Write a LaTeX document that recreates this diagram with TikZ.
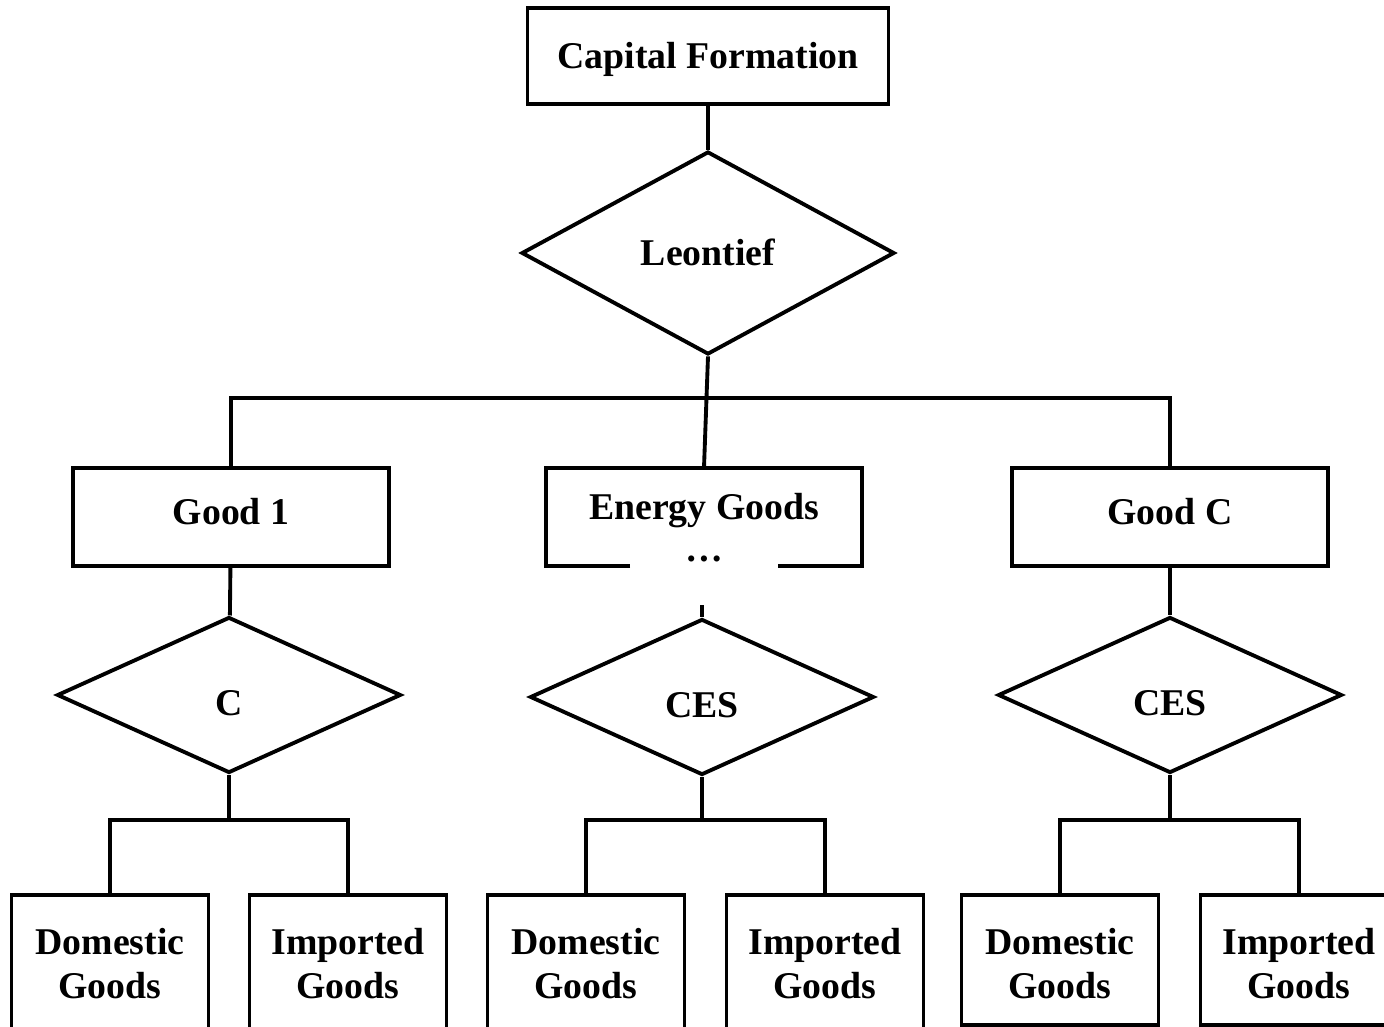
\documentclass[tikz,border=0pt]{standalone}
\usepackage{fontspec}
\setmainfont{Liberation Serif}
\usetikzlibrary{shapes.geometric}

\tikzset{
  lbl/.style={font=\bfseries\fontsize{21.5}{25}\selectfont, align=center},
  box/.style={lbl, draw, line width=2.2pt, inner sep=0pt},
  midbox/.style={box, minimum width=6.32cm, text height=1.14cm, text depth=0.82cm},
  leafbox/.style={box, minimum width=3.94cm, text height=2.08cm, text depth=0.52cm, anchor=north},
  openleaf/.style={leafbox, text depth=0.8cm},
  choice/.style={lbl, draw, diamond, line width=2.2pt, inner sep=0pt,
    minimum width=6.88cm, minimum height=3.12cm, text height=0.84cm, text depth=0cm},
  link/.style={line width=2.2pt}
}

\begin{document}
\begin{tikzpicture}[x=0.02cm, y=-0.02cm]

\useasboundingbox (0,0) rectangle (1384,1027);

% --- Top level ---
\node[box, minimum width=7.22cm, text height=1.22cm, text depth=0.70cm] (cap) at (708,56) {Capital Formation};
\node[choice, minimum width=7.46cm, minimum height=4.06cm, text height=0.52cm] (leo) at (708,253) {Leontief};

% --- Goods ---
\node[midbox] (g1) at (231,517) {Good 1};
\node[lbl, inner sep=0pt, minimum width=6.32cm, text height=1.04cm, text depth=0.92cm] (en) at (704,517) {Energy Goods};
\node[lbl] (endots) at (704,559) {\dots};
\node[midbox] (gc) at (1170,517) {Good C};

% open outline of the energy box
\draw[link] ([xshift=-1.48cm]en.south) -- (en.south west) -- (en.north west)
  -- (en.north east) -- (en.south east) -- ([xshift=1.48cm]en.south);

% --- Nests ---
\node[choice] (c1) at (229,695) {C};
\node[choice] (c2) at (702,697) {CES};
\node[choice] (c3) at (1170,695) {CES};

% --- Leaves ---
\node[openleaf] (d1) at (110,893) {Domestic\\Goods};
\node[openleaf] (i1) at (348,893) {Imported\\Goods};
\node[openleaf] (d2) at (586,893) {Domestic\\Goods};
\node[openleaf] (i2) at (825,893) {Imported\\Goods};
\node[leafbox] (d3) at (1060,893) {Domestic\\Goods};
\node[leafbox] (i3) at (1299,893) {Imported\\Goods};

% --- Connectors ---
\coordinate (tbar) at (0,398);
\coordinate (bbar) at (0,820);

\draw[link] (cap) -- (leo);
\draw[link] (leo.south) -- (en.north);
\draw[link] (g1.north) -- (g1.north |- tbar) -- (gc.north |- tbar) -- (gc.north);

\draw[link] (g1) -- (c1);
\draw[link] (c2.north) -- ++(0,-12);
\draw[link] (gc) -- (c3);

\foreach \c/\d/\i in {c1/d1/i1, c2/d2/i2, c3/d3/i3}{
  \draw[link] (\c.south) -- (\c.south |- bbar);
  \draw[link] (\d.north) -- (\d.north |- bbar) -- (\i.north |- bbar) -- (\i.north);
}

\end{tikzpicture}
\end{document}
